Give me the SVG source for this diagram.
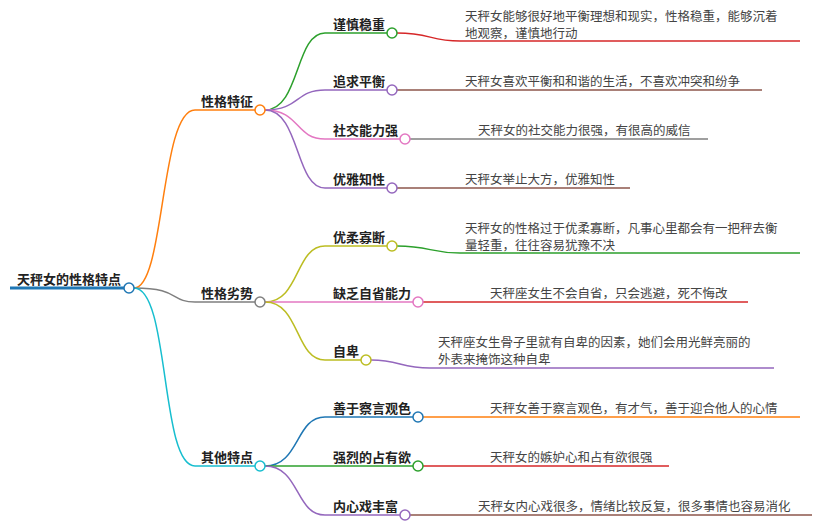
<svg xmlns="http://www.w3.org/2000/svg" width="820" height="529" viewBox="0 0 820 529">
<style>
text{font-family:"Noto Sans CJK SC","Liberation Sans",sans-serif;fill:#333}
.b{font-weight:bold;font-size:13px;fill:#222}
.r{font-size:12.5px;fill:#444}
.c path{fill:none;stroke-width:1.5}
circle{fill:#fff;stroke-width:1.5}
</style>
<rect width="820" height="529" fill="#fff"/>
<g class="c" id="connectors">
<path d="M10,288H124" stroke="#1f77b4" style="stroke-width:3"/>
<path d="M134,288C165,288 160,110 195,110H255" stroke="#ff7f0e"/>
<path d="M134,288C180,288 170,302 195,302H255" stroke="#7f7f7f"/>
<path d="M134,288C170,288 160,466 195,466H255" stroke="#17becf"/>
<path d="M265,110C300,110 295,33 325,33H387" stroke="#2ca02c"/>
<path d="M265,110C300,110 295,90 325,90H387" stroke="#9467bd"/>
<path d="M265,110C300,110 295,139 325,139H400" stroke="#e377c2"/>
<path d="M265,110C300,110 295,188 325,188H387" stroke="#9467bd"/>
<path d="M265,302C300,302 295,246 325,246H387" stroke="#bcbd22"/>
<path d="M265,302C300,302 295,302 325,302H413" stroke="#e377c2"/>
<path d="M265,302C300,302 295,360 325,360H361" stroke="#bcbd22"/>
<path d="M265,466C300,466 295,417 325,417H413" stroke="#1f77b4"/>
<path d="M265,466C300,466 295,466 325,466H413" stroke="#2ca02c"/>
<path d="M265,466C300,466 295,515 325,515H400" stroke="#9467bd"/>
<path d="M397,33C430,33 430,41 460,41H800" stroke="#d62728"/>
<path d="M397,90H762" stroke="#8c564b"/>
<path d="M410,139H708" stroke="#7f7f7f"/>
<path d="M397,188H630" stroke="#8c564b"/>
<path d="M397,246C430,246 430,253 460,253H800" stroke="#2ca02c"/>
<path d="M423,302H748" stroke="#d62728"/>
<path d="M371,360C400,360 400,368 430,368H774" stroke="#9467bd"/>
<path d="M423,417H800" stroke="#ff7f0e"/>
<path d="M423,466H669" stroke="#d62728"/>
<path d="M410,515H812" stroke="#8c564b"/>
</g>
<g id="root"><text class="b" x="17" y="284">天秤女的性格特点</text><circle cx="129" cy="288" r="5" stroke="#1f77b4"/></g>
<g id="n1"><text class="b" x="201" y="106">性格特征</text><circle cx="260" cy="110" r="5" stroke="#ff7f0e"/></g>
<g id="n2"><text class="b" x="201" y="298">性格劣势</text><circle cx="260" cy="302" r="5" stroke="#7f7f7f"/></g>
<g id="n3"><text class="b" x="201" y="462">其他特点</text><circle cx="260" cy="466" r="5" stroke="#17becf"/></g>
<g id="n11"><text class="b" x="333" y="29">谨慎稳重</text><circle cx="392" cy="33" r="5" stroke="#2ca02c"/><text class="r" x="465" y="21">天秤女能够很好地平衡理想和现实，性格稳重，能够沉着</text><text class="r" x="465" y="38">地观察，谨慎地行动</text></g>
<g id="n12"><text class="b" x="333" y="86">追求平衡</text><circle cx="392" cy="90" r="5" stroke="#9467bd"/><text class="r" x="465" y="86">天秤女喜欢平衡和和谐的生活，不喜欢冲突和纷争</text></g>
<g id="n13"><text class="b" x="333" y="135">社交能力强</text><circle cx="405" cy="139" r="5" stroke="#e377c2"/><text class="r" x="478" y="135">天秤女的社交能力很强，有很高的威信</text></g>
<g id="n14"><text class="b" x="333" y="184">优雅知性</text><circle cx="392" cy="188" r="5" stroke="#9467bd"/><text class="r" x="465" y="184">天秤女举止大方，优雅知性</text></g>
<g id="n21"><text class="b" x="333" y="242">优柔寡断</text><circle cx="392" cy="246" r="5" stroke="#bcbd22"/><text class="r" x="465" y="233">天秤女的性格过于优柔寡断，凡事心里都会有一把秤去衡</text><text class="r" x="465" y="250">量轻重，往往容易犹豫不决</text></g>
<g id="n22"><text class="b" x="333" y="298">缺乏自省能力</text><circle cx="418" cy="302" r="5" stroke="#e377c2"/><text class="r" x="490" y="298">天秤座女生不会自省，只会逃避，死不悔改</text></g>
<g id="n23"><text class="b" x="333" y="356">自卑</text><circle cx="366" cy="360" r="5" stroke="#bcbd22"/><text class="r" x="438" y="347">天秤座女生骨子里就有自卑的因素，她们会用光鲜亮丽的</text><text class="r" x="438" y="364">外表来掩饰这种自卑</text></g>
<g id="n31"><text class="b" x="333" y="413">善于察言观色</text><circle cx="418" cy="417" r="5" stroke="#1f77b4"/><text class="r" x="490" y="413">天秤女善于察言观色，有才气，善于迎合他人的心情</text></g>
<g id="n32"><text class="b" x="333" y="462">强烈的占有欲</text><circle cx="418" cy="466" r="5" stroke="#2ca02c"/><text class="r" x="490" y="462">天秤女的嫉妒心和占有欲很强</text></g>
<g id="n33"><text class="b" x="333" y="511">内心戏丰富</text><circle cx="405" cy="515" r="5" stroke="#9467bd"/><text class="r" x="478" y="511">天秤女内心戏很多，情绪比较反复，很多事情也容易消化</text></g>
</svg>
